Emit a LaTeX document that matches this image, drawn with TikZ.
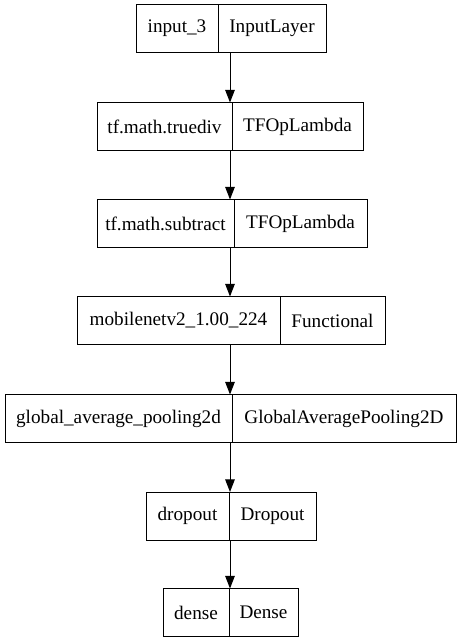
\documentclass[tikz,border=0pt]{standalone}
\usepackage{fontspec}
\setmainfont{Liberation Serif}
\usepackage{tikz}
\usetikzlibrary{arrows.meta,positioning}

\begin{document}
\begin{tikzpicture}[
  x=0.75pt, y=-0.75pt,
  cell/.style={draw, line width=0.75pt, minimum height=36pt, inner sep=0pt,
               outer sep=0pt, font=\fontsize{14.4}{16}\selectfont},
  arr/.style={-{Triangle[length=9.5pt,width=7.2pt]}, line width=0.75pt}
]
  \useasboundingbox (0,0) rectangle (461,644);

  % layer boxes: name | class
  \node[cell, minimum width=61.5pt,  anchor=east] (inL) at (218,28.5) {input\_3};
  \node[cell, minimum width=81pt,    right=0pt of inL] (inR) {InputLayer};

  \node[cell, minimum width=101.25pt, anchor=east] (tdL) at (232,126.5) {tf.math.truediv};
  \node[cell, minimum width=98.25pt,  right=0pt of tdL] (tdR) {TFOpLambda};

  \node[cell, minimum width=102.75pt, anchor=east] (sbL) at (234,223.5) {tf.math.subtract};
  \node[cell, minimum width=99.75pt,  right=0pt of sbL] (sbR) {TFOpLambda};

  \node[cell, minimum width=152.25pt, anchor=east] (mnL) at (280,320.5) {mobilenetv2\_1.00\_224};
  \node[cell, minimum width=78.75pt,  right=0pt of mnL] (mnR) {Functional};

  \node[cell, minimum width=170.25pt, anchor=east] (gpL) at (232,418.5) {global\_average\_pooling2d};
  \node[cell, minimum width=168pt,    right=0pt of gpL] (gpR) {GlobalAveragePooling2D};

  \node[cell, minimum width=62.25pt, anchor=east] (doL) at (229,516) {dropout};
  \node[cell, minimum width=65.25pt, right=0pt of doL] (doR) {Dropout};

  \node[cell, minimum width=49.5pt,  anchor=east] (deL) at (229,612.5) {dense};
  \node[cell, minimum width=51.75pt, right=0pt of deL] (deR) {Dense};

  % edges
  \coordinate (ax) at (230,0);
  \draw[arr] (inL.south -| ax) -- (tdL.north -| ax);
  \draw[arr] (tdL.south -| ax) -- (sbL.north -| ax);
  \draw[arr] (sbL.south -| ax) -- (mnL.north -| ax);
  \draw[arr] (mnL.south -| ax) -- (gpL.north -| ax);
  \draw[arr] (gpL.south -| ax) -- (doL.north -| ax);
  \draw[arr] (doL.south -| ax) -- (deL.north -| ax);
\end{tikzpicture}
\end{document}
